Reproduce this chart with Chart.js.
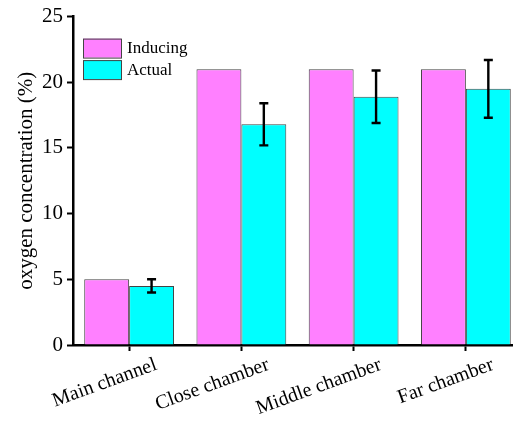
<!DOCTYPE html>
<html>
<head>
<meta charset="utf-8">
<script src="https://cdn.jsdelivr.net/npm/chart.js@4"></script>
<style>
  html, body { margin: 0; padding: 0; background: #fff; overflow: hidden; }
  #wrap { position: absolute; left: 0; top: 0; width: 530px; height: 421px; }
</style>
</head>
<body>
<div id="wrap"><canvas id="barChart" width="530" height="421"></canvas></div>
<script>
const categorias = ['Main channel', 'Close chamber', 'Middle chamber', 'Far chamber'];
const inducing = [5, 21, 21, 21];
const actual = [4.5, 16.8, 18.9, 19.5];
const actualErr = [0.5, 1.6, 2.0, 2.2];
const yTicks = [0, 5, 10, 15, 20, 25];

const serif = "'Liberation Serif', 'Times New Roman', serif";

// error bars on the "Actual" series
const errorBars = {
  id: 'errorBars',
  afterDatasetsDraw(chart) {
    const ctx = chart.ctx;
    const y = chart.scales.y;
    const meta = chart.getDatasetMeta(1);
    ctx.save();
    ctx.strokeStyle = '#000';
    ctx.lineWidth = 2.4;
    meta.data.forEach((bar, i) => {
      const x = bar.x;
      const top = y.getPixelForValue(actual[i] + actualErr[i]);
      const bot = y.getPixelForValue(actual[i] - actualErr[i]);
      ctx.beginPath();
      ctx.moveTo(x, top); ctx.lineTo(x, bot);
      ctx.moveTo(x - 4.5, top); ctx.lineTo(x + 4.5, top);
      ctx.moveTo(x - 4.5, bot); ctx.lineTo(x + 4.5, bot);
      ctx.stroke();
    });
    ctx.restore();
  }
};

// legend drawn inside the plot, top-left
const innerLegend = {
  id: 'innerLegend',
  afterDraw(chart) {
    const ctx = chart.ctx;
    const a = chart.chartArea;
    ctx.save();
    ctx.font = '17px ' + serif;
    ctx.textBaseline = 'middle';
    chart.data.datasets.forEach((ds, i) => {
      const bx = a.left + 10, by = a.top + 22 + i * 21.5;
      ctx.fillStyle = ds.backgroundColor;
      ctx.fillRect(bx, by, 38, 19);
      ctx.strokeStyle = '#444';
      ctx.lineWidth = 1;
      ctx.strokeRect(bx + 0.5, by + 0.5, 38, 19);
      ctx.fillStyle = '#000';
      ctx.fillText(ds.label, bx + 44, by + 10);
    });
    ctx.restore();
  }
};

const ctx = document.getElementById('barChart').getContext('2d');
new Chart(ctx, {
  type: 'bar',
  data: {
    labels: categorias,
    datasets: [
      {
        label: 'Inducing',
        data: inducing,
        backgroundColor: '#ff80ff',
        borderColor: '#444',
        borderWidth: 1,
        categoryPercentage: 0.8,
        barPercentage: 1.0
      },
      {
        label: 'Actual',
        data: actual,
        backgroundColor: '#00ffff',
        borderColor: '#444',
        borderWidth: 1,
        categoryPercentage: 0.8,
        barPercentage: 1.0
      }
    ]
  },
  options: {
    responsive: false,
    animation: false,
    layout: { padding: { top: 16, right: 8, left: 0, bottom: 0 } },
    plugins: {
      legend: { display: false },
      tooltip: { enabled: false }
    },
    scales: {
      x: {
        offset: true,
        grid: {
          offset: false,
          drawOnChartArea: false,
          drawTicks: true,
          tickLength: 6,
          tickWidth: 2,
          tickColor: '#000'
        },
        border: { display: true, color: '#000', width: 2.5 },
        ticks: {
          color: '#000',
          font: { family: serif, size: 20 },
          minRotation: 20,
          maxRotation: 20,
          labelOffset: 27,
          padding: 2,
          autoSkip: false
        },
        afterFit(scale) { scale.height = 76; }
      },
      y: {
        min: 0,
        max: 25,
        afterBuildTicks(scale) { scale.ticks = yTicks.map(v => ({ value: v })); },
        grid: {
          drawOnChartArea: false,
          drawTicks: true,
          tickLength: 6,
          tickWidth: 2,
          tickColor: '#000'
        },
        border: { display: true, color: '#000', width: 2.5 },
        ticks: {
          color: '#000',
          font: { family: serif, size: 21 },
          padding: 4
        },
        title: {
          display: true,
          text: 'oxygen concentration (%)',
          color: '#000',
          font: { family: serif, size: 21 },
          padding: { top: 14, bottom: 0 }
        },
        afterFit(scale) { scale.width = 73; }
      }
    }
  },
  plugins: [errorBars, innerLegend]
});
</script>
</body>
</html>
